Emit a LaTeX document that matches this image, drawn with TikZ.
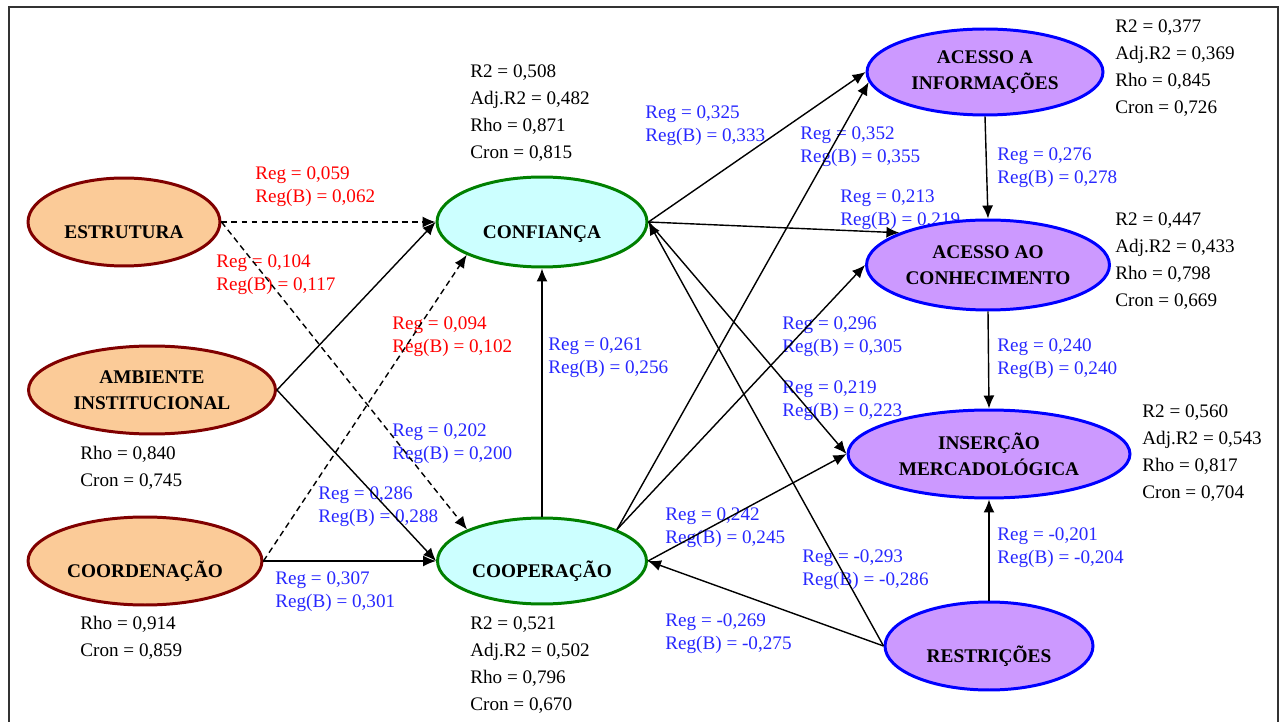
\documentclass[tikz,border=0pt]{standalone}
\usepackage{fontspec}
\setmainfont{Liberation Serif}
\usetikzlibrary{shapes.geometric,arrows.meta}

\definecolor{peach}{RGB}{251,203,152}
\definecolor{darkred}{RGB}{128,0,0}
\definecolor{palecyan}{RGB}{204,255,255}
\definecolor{darkgreen}{RGB}{0,128,0}
\definecolor{lilac}{RGB}{204,153,255}
\definecolor{regblue}{RGB}{40,40,255}

\tikzset{
  latent/.style={ellipse,draw,line width=1.7pt,inner sep=0pt,align=center,
    font=\fontsize{11}{14.8}\selectfont\bfseries},
  extern/.style={latent,draw=darkred,fill=peach},
  mediat/.style={latent,draw=darkgreen,fill=palecyan},
  result/.style={latent,draw=blue,fill=lilac},
  lowtext/.style={text height=0.66cm,text depth=0pt},
  reg/.style={anchor=north west,inner sep=0pt,align=left,text=regblue,
    font=\fontsize{10.9}{13.6}\selectfont},
  nsig/.style={reg,text=red},
  stats/.style={reg,text=black,font=\fontsize{10.9}{15.4}\selectfont},
  link/.style={line width=0.8pt,-{Latex[length=2.6mm,width=2.2mm]}},
  weak/.style={link,dash pattern=on 3.4pt off 2.3pt}
}

\begin{document}
\begin{tikzpicture}[x=0.02cm,y=-0.02cm]
	\useasboundingbox (0,0) rectangle (1280,722);
	\draw[line width=1pt,black!80] (9,722) -- (9,7) -- (1278,7) -- (1278,722);

	% coefficients
	\node[nsig] (r-est-conf) at (255,166) {Reg = 0,059\\Reg(B) = 0,062};
	\node[nsig] (r-est-coop) at (216,254) {Reg = 0,104\\Reg(B) = 0,117};
	\node[nsig] (r-coord-conf) at (392,316) {Reg = 0,094\\Reg(B) = 0,102};
	\node[reg] (r-amb-conf) at (392,423) {Reg = 0,202\\Reg(B) = 0,200};
	\node[reg] (r-amb-coop) at (318,486) {Reg = 0,286\\Reg(B) = 0,288};
	\node[reg] (r-coord-coop) at (275,571) {Reg = 0,307\\Reg(B) = 0,301};
	\node[reg] (r-coop-conf) at (548,337) {Reg = 0,261\\Reg(B) = 0,256};
	\node[reg] (r-conf-info) at (645,105) {Reg = 0,325\\Reg(B) = 0,333};
	\node[reg] (r-coop-info) at (800,126) {Reg = 0,352\\Reg(B) = 0,355};
	\node[reg] (r-conf-conh) at (840,189) {Reg = 0,213\\Reg(B) = 0,219};
	\node[reg] (r-info-conh) at (997,147) {Reg = 0,276\\Reg(B) = 0,278};
	\node[reg] (r-coop-conh) at (782,316) {Reg = 0,296\\Reg(B) = 0,305};
	\node[reg] (r-conf-ins) at (782,380) {Reg = 0,219\\Reg(B) = 0,223};
	\node[reg] (r-conh-ins) at (997,338) {Reg = 0,240\\Reg(B) = 0,240};
	\node[reg] (r-coop-ins) at (665,507) {Reg = 0,242\\Reg(B) = 0,245};
	\node[reg] (r-rest-conf) at (802,549) {Reg = -0,293\\Reg(B) = -0,286};
	\node[reg] (r-rest-coop) at (665,613) {Reg = -0,269\\Reg(B) = -0,275};
	\node[reg] (r-rest-ins) at (997,527) {Reg = -0,201\\Reg(B) = -0,204};

	% quality
	\node[stats] (s-conf) at (470,64) {R2 = 0,508\\Adj.R2 = 0,482\\Rho = 0,871\\Cron = 0,815};
	\node[stats] (s-coop) at (470,616) {R2 = 0,521\\Adj.R2 = 0,502\\Rho = 0,796\\Cron = 0,670};
	\node[stats] (s-info) at (1115,19) {R2 = 0,377\\Adj.R2 = 0,369\\Rho = 0,845\\Cron = 0,726};
	\node[stats] (s-conh) at (1115,212) {R2 = 0,447\\Adj.R2 = 0,433\\Rho = 0,798\\Cron = 0,669};
	\node[stats] (s-ins) at (1142,404) {R2 = 0,560\\Adj.R2 = 0,543\\Rho = 0,817\\Cron = 0,704};
	\node[stats] (s-amb) at (80,446) {Rho = 0,840\\Cron = 0,745};
	\node[stats] (s-coord) at (80,616) {Rho = 0,914\\Cron = 0,859};

	% constructs
	\node[extern,lowtext,minimum width=3.84cm,minimum height=1.76cm] (estrutura) at (124,222) {ESTRUTURA};
	\node[extern,minimum width=4.94cm,minimum height=1.76cm] (ambiente) at (152,390) {AMBIENTE\\INSTITUCIONAL};
	\node[extern,lowtext,minimum width=4.68cm,minimum height=1.76cm] (coord) at (145,561) {COORDENAÇÃO};
	\node[mediat,lowtext,minimum width=4.2cm,minimum height=1.8cm] (confianca) at (542,222) {CONFIANÇA};
	\node[mediat,lowtext,minimum width=4.18cm,minimum height=1.72cm] (cooper) at (542,561) {COOPERAÇÃO};
	\node[result,minimum width=4.72cm,minimum height=1.72cm] (informacoes) at (985,72) {ACESSO A\\INFORMAÇÕES};
	\node[result,minimum width=4.86cm,minimum height=1.8cm] (conhecimento) at (988,265) {ACESSO AO\\CONHECIMENTO};
	\node[result,minimum width=5.64cm,minimum height=1.76cm] (insercao) at (989,454) {INSERÇÃO\\MERCADOLÓGICA};
	\node[result,lowtext,minimum width=4.16cm,minimum height=1.76cm] (restricoes) at (989,646) {RESTRIÇÕES};

	% paths
	\draw[weak] (estrutura.east) -- (confianca.west);
	\draw[weak] (estrutura.east) -- (cooper.north west);
	\draw[weak] (coord.east) -- (confianca.south west);
	\draw[link] (ambiente.east) -- (confianca.west);
	\draw[link] (ambiente.east) -- (cooper.west);
	\draw[link] (coord.east) -- (cooper.west);
	\draw[link] (cooper.north) -- (confianca.south);
	\draw[link] (confianca.east) -- (informacoes.west);
	\draw[link] (confianca.east) -- (conhecimento.160);
	\draw[link] (confianca.east) -- (insercao.west);
	\draw[link] (cooper.north east) -- (informacoes.185);
	\draw[link] (cooper.north east) -- (conhecimento.west);
	\draw[link] (cooper.east) -- (insercao.west);
	\draw[link] (restricoes.west) -- (confianca.east);
	\draw[link] (restricoes.west) -- (cooper.east);
	\draw[link] (restricoes.north) -- (insercao.south);
	\draw[link] (informacoes.south) -- (conhecimento.north);
	\draw[link] (conhecimento.south) -- (insercao.north);
\end{tikzpicture}
\end{document}
